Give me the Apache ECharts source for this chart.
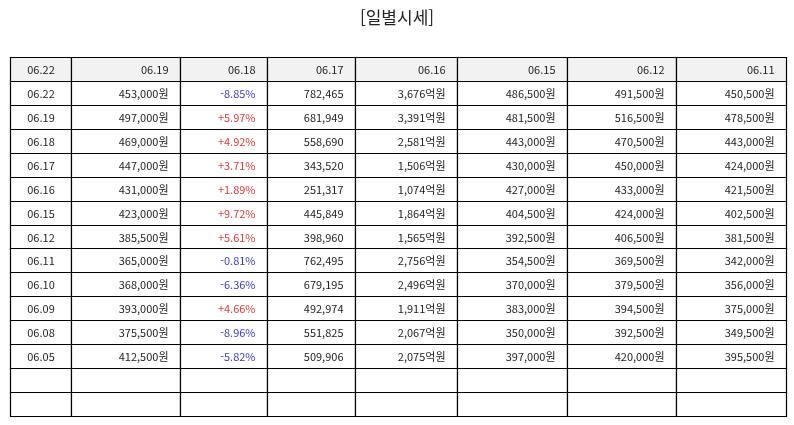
<!DOCTYPE html>
<html lang="ko">
<head>
    <meta charset="UTF-8">
    <title>일별시세</title>
    <script src="https://cdn.jsdelivr.net/npm/echarts@6.0.0/dist/echarts.min.js"></script>
    <style>
        body { margin: 0; padding: 0; background: #fff; }
        #chart { width: 794px; height: 425px; }
    </style>
</head>
<body>
    <div id="chart"></div>
    <script>
        // 데이터
        const headers = ['06.22', '06.19', '06.18', '06.17', '06.16', '06.15', '06.12', '06.11'];
        const dates = ['06.22', '06.19', '06.18', '06.17', '06.16', '06.15', '06.12', '06.11', '06.10', '06.09', '06.08', '06.05'];
        const closePrice = [453000, 497000, 469000, 447000, 431000, 423000, 385500, 365000, 368000, 393000, 375500, 412500];
        const changeRate = [-8.85, 5.97, 4.92, 3.71, 1.89, 9.72, 5.61, -0.81, -6.36, 4.66, -8.96, -5.82];
        const volume = [782465, 681949, 558690, 343520, 251317, 445849, 398960, 762495, 679195, 492974, 551825, 509906];
        const amount = [3676, 3391, 2581, 1506, 1074, 1864, 1565, 2756, 2496, 1911, 2067, 2075]; // 억원
        const openPrice = [486500, 481500, 443000, 430000, 427000, 404500, 392500, 354500, 370000, 383000, 350000, 397000];
        const highPrice = [491500, 516500, 470500, 450000, 433000, 424000, 406500, 369500, 379500, 394500, 392500, 420000];
        const lowPrice = [450500, 478500, 443000, 424000, 421500, 402500, 381500, 342000, 356000, 375000, 349500, 395500];
        const emptyRows = 2;

        // 레이아웃
        const colWidths = [61, 109, 87, 88, 102, 110, 109, 110];
        const colEdges = [0];
        colWidths.forEach(w => colEdges.push(colEdges[colEdges.length - 1] + w));
        const rowCount = 1 + dates.length + emptyRows;

        const fmt = n => n.toLocaleString('en-US');
        const won = n => fmt(n) + '원';

        // 셀 목록
        const cells = [];
        headers.forEach((h, c) => cells.push({ col: c, row: 0, text: h, header: true }));
        dates.forEach((d, i) => {
            const r = i + 1;
            const rate = changeRate[i];
            const row = [
                { text: d },
                { text: won(closePrice[i]) },
                { text: (rate > 0 ? '+' : '') + rate.toFixed(2) + '%', color: rate > 0 ? '#e53935' : '#3a3acb' },
                { text: fmt(volume[i]) },
                { text: fmt(amount[i]) + '억원' },
                { text: won(openPrice[i]) },
                { text: won(highPrice[i]) },
                { text: won(lowPrice[i]) }
            ];
            row.forEach((cell, c) => cells.push({ col: c, row: r, text: cell.text, color: cell.color }));
        });
        for (let e = 0; e < emptyRows; e++) {
            for (let c = 0; c < headers.length; c++) {
                cells.push({ col: c, row: 1 + dates.length + e, text: '' });
            }
        }

        const chart = echarts.init(document.getElementById('chart'));

        const option = {
            animation: false,
            title: {
                text: '[일별시세]',
                left: 'center',
                top: 4,
                textStyle: {
                    fontFamily: 'Noto Sans CJK KR',
                    fontSize: 17,
                    fontWeight: 'normal',
                    color: '#222'
                }
            },
            grid: { left: 10, right: 8, top: 57, bottom: 9 },
            xAxis: { type: 'value', min: 0, max: colEdges[colEdges.length - 1], show: false },
            yAxis: { type: 'value', min: 0, max: rowCount, inverse: true, show: false },
            series: [{
                type: 'custom',
                data: cells.map(c => [c.col, c.row]),
                renderItem: function (params, api) {
                    const cell = cells[params.dataIndex];
                    const p0 = api.coord([colEdges[cell.col], cell.row]);
                    const p1 = api.coord([colEdges[cell.col + 1], cell.row + 1]);
                    const x = Math.round(Math.min(p0[0], p1[0])) + 0.5;
                    const y = Math.round(Math.min(p0[1], p1[1])) + 0.5;
                    const w = Math.round(Math.abs(p1[0] - p0[0]));
                    const h = Math.round(Math.abs(p1[1] - p0[1]));
                    const center = cell.col === 0;
                    return {
                        type: 'group',
                        children: [
                            {
                                type: 'rect',
                                shape: { x: x, y: y, width: w, height: h },
                                style: { fill: cell.header ? '#f2f2f2' : '#fff', stroke: '#000', lineWidth: 1.2 }
                            },
                            {
                                type: 'text',
                                style: {
                                    text: cell.text,
                                    x: center ? x + w / 2 : x + w - 12,
                                    y: y + h / 2 + 0.5,
                                    textAlign: center ? 'center' : 'right',
                                    textVerticalAlign: 'middle',
                                    fontFamily: 'Noto Sans CJK KR',
                                    fontSize: 11,
                                    fill: cell.color || '#222'
                                }
                            }
                        ]
                    };
                }
            }]
        };

        chart.setOption(option);
        window.addEventListener('resize', function () {
            chart.resize();
        });
    </script>
</body>
</html>
